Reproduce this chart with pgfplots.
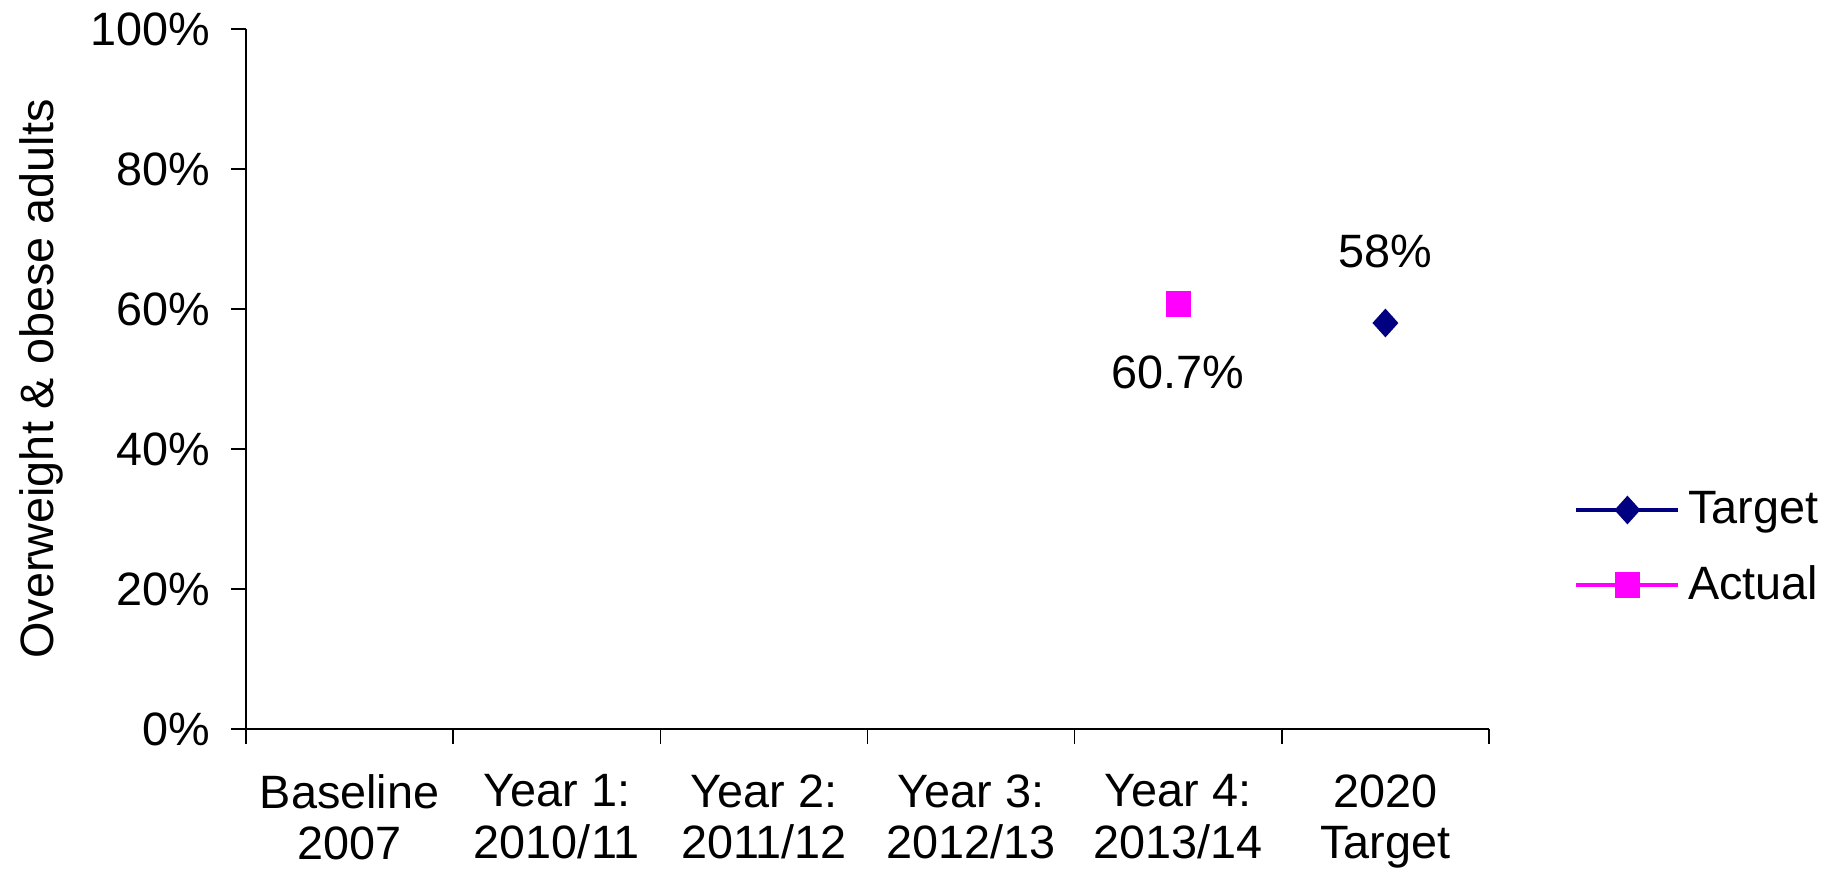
\documentclass[border=0pt]{standalone}
\usepackage{pgfplots}
\pgfplotsset{compat=1.18}
\usepackage{fontspec}
\setmainfont{Liberation Sans}
\definecolor{navyT}{RGB}{0,0,128}
\definecolor{magA}{RGB}{255,0,255}
\newcommand{\chartfont}{\fontsize{11.7}{14.5}\selectfont}
\newcommand{\catfont}{\fontsize{11.7}{12.9}\selectfont}
\begin{document}
\begin{tikzpicture}
\begin{axis}[
  scale only axis, width=310.75pt, height=175pt,
  xmin=-0.5, xmax=5.5, ymin=0, ymax=100,
  axis x line=bottom, axis y line=left,
  axis line style={-, line width=0.5pt, black},
  tick align=outside, major tick length=3.75pt,
  tick style={black, line width=0.4pt},
  /pgf/number format/assume math mode=true,
  xtick={-0.5,0.5,1.5,2.5,3.5,4.5,5.5}, xticklabels={},
  extra x ticks={0,1,2,3,4,5},
  extra x tick labels={Baseline\\2007,Year 1:\\2010/11,Year 2:\\2011/12,Year 3:\\2012/13,Year 4:\\2013/14,2020\\Target},
  extra x tick style={major tick length=0pt},
  xticklabel style={align=center, yshift=-7.8pt, font=\catfont},
  ytick={0,20,40,60,80,100},
  yticklabel={\pgfmathprintnumber{\tick}\%},
  yticklabel style={xshift=-1.6pt, font=\chartfont},
  ylabel={Overweight \& obese adults},
  every axis y label/.style={at={(axis description cs:-0.1649,0.5)}, rotate=90, anchor=center, font=\chartfont},
  legend style={draw=none, fill=none, at={(1.0684,0.2586)}, anchor=west, inner sep=0pt, row sep=5pt, font=\chartfont},
  legend cell align=left,
  legend image code/.code={\draw[mark repeat=2,mark phase=2,#1] plot coordinates {(0pt,0pt) (12.75pt,0pt) (25.5pt,0pt)};},
  clip=false,
]
\addplot[navyT, line width=0.8pt, mark=diamond*, mark size=3pt, mark options={solid, xscale=1.2},
  point meta=y, nodes near coords={\pgfmathprintnumber{\pgfplotspointmeta}\%},
  every node near coord/.append style={text=black, anchor=center, yshift=17.9pt, font=\chartfont}]
  coordinates {(5,58)};
\addlegendentry{Target}
\addplot[magA, line width=0.8pt, mark=square*, mark size=2.75pt, mark options={solid},
  point meta=y, nodes near coords={\pgfmathprintnumber{\pgfplotspointmeta}\%},
  every node near coord/.append style={text=black, anchor=center, yshift=-17pt, font=\chartfont}]
  coordinates {(4,60.7)};
\addlegendentry{Actual}
\end{axis}
\pgfresetboundingbox
\useasboundingbox (-61.5pt,-37pt) rectangle (398pt,182.25pt);
\end{tikzpicture}
\end{document}
